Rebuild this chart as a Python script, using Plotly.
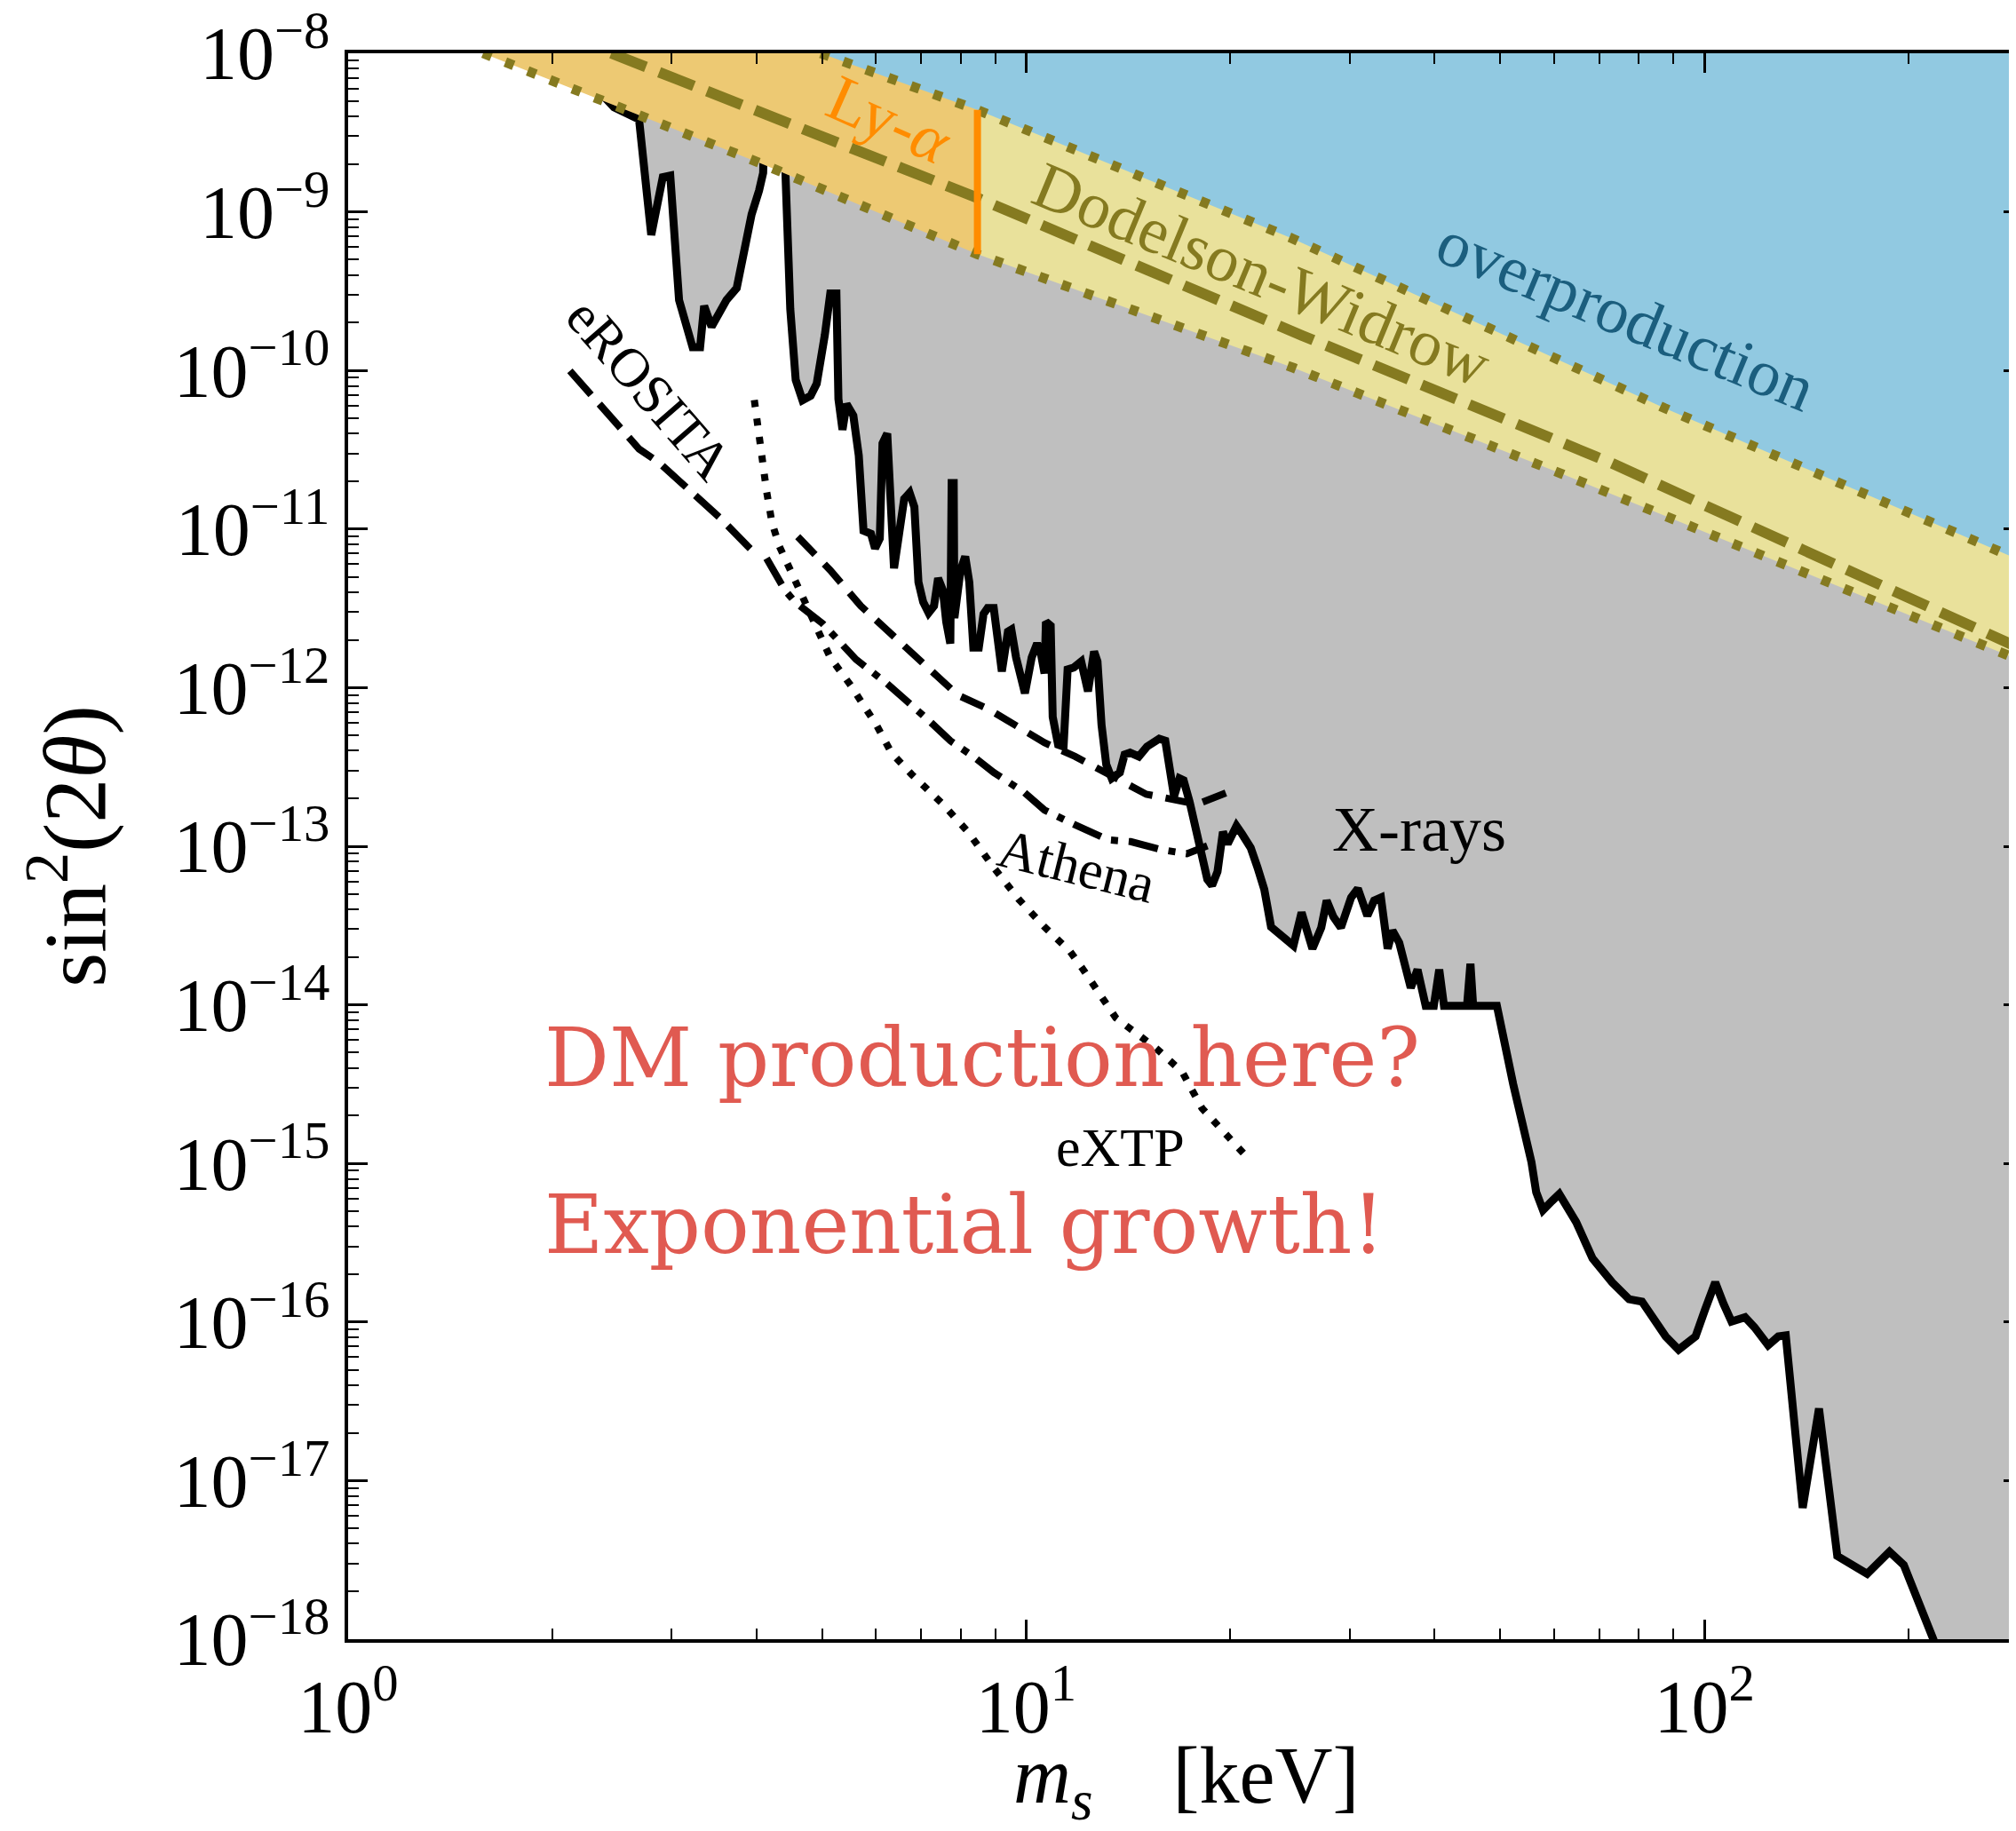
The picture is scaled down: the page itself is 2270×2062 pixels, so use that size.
import plotly.graph_objects as go

# ---------------- data (log10 of m_s in keV, log10 of sin^2(2 theta)) ----------------
xray_log10_m = [0.360, 0.392, 0.429, 0.447, 0.464, 0.475, 0.488, 0.497, 0.508, 0.519,
                0.525, 0.536, 0.558, 0.573, 0.584, 0.595, 0.606, 0.612, 0.619, 0.638,
                0.645, 0.652, 0.660, 0.670, 0.682, 0.691, 0.703, 0.711, 0.720, 0.723,
                0.729, 0.735, 0.745, 0.753, 0.760, 0.771, 0.777, 0.784, 0.788, 0.795,
                0.805, 0.820, 0.828, 0.835, 0.841, 0.848, 0.856, 0.864, 0.870, 0.877,
                0.882, 0.888, 0.890, 0.893, 0.894, 0.903, 0.910, 0.916, 0.922, 0.930,
                0.937, 0.943, 0.952, 0.958, 0.964, 0.973, 0.978, 0.985, 0.998, 1.008,
                1.016, 1.021, 1.027, 1.029, 1.036, 1.039, 1.047, 1.055, 1.061, 1.070,
                1.081, 1.091, 1.100, 1.105, 1.111, 1.118, 1.126, 1.138, 1.145, 1.153,
                1.166, 1.178, 1.196, 1.205, 1.211, 1.218, 1.226, 1.232, 1.241, 1.248,
                1.259, 1.267, 1.274, 1.282, 1.290, 1.297, 1.310, 1.318, 1.331, 1.341,
                1.351, 1.361, 1.376, 1.394, 1.406, 1.422, 1.435, 1.443, 1.453, 1.464,
                1.479, 1.489, 1.503, 1.513, 1.523, 1.533, 1.540, 1.550, 1.567, 1.577,
                1.589, 1.601, 1.609, 1.616, 1.650, 1.655, 1.659, 1.694, 1.718, 1.733,
                1.745, 1.752, 1.762, 1.775, 1.786, 1.811, 1.835, 1.864, 1.889, 1.908,
                1.923, 1.943, 1.962, 1.987, 2.001, 2.016, 2.028, 2.040, 2.060, 2.074,
                2.094, 2.109, 2.120, 2.145, 2.169, 2.196, 2.240, 2.273, 2.294, 2.338,
                2.360]
xray_log10_s = [-8.194, -8.340, -8.417, -9.145, -8.781, -8.771, -9.556, -9.705, -9.854, -9.854,
                -9.593, -9.724, -9.556, -9.481, -9.238, -9.015, -8.865, -8.754, -7.5, -7.5,
                -8.771, -9.612, -10.059, -10.188, -10.160, -10.083, -9.775, -9.515, -9.515, -10.180,
                -10.374, -10.212, -10.285, -10.536, -11.011, -11.030, -11.122, -11.060, -10.460, -10.398,
                -11.247, -10.810, -10.772, -10.861, -11.335, -11.460, -11.528, -11.485, -11.310, -11.385,
                -11.585, -11.722, -10.710, -10.710, -11.560, -11.260, -11.173, -11.335, -11.747, -11.747,
                -11.535, -11.498, -11.498, -11.660, -11.898, -11.647, -11.634, -11.810, -12.035, -11.810,
                -11.722, -11.772, -11.910, -11.585, -11.610, -12.185, -12.360, -12.372, -11.885, -11.873,
                -11.835, -12.023, -11.772, -11.835, -12.235, -12.485, -12.572, -12.535, -12.422, -12.410,
                -12.434, -12.372, -12.322, -12.335, -12.535, -12.685, -12.572, -12.584, -12.722, -12.872,
                -13.059, -13.209, -13.247, -13.160, -12.909, -12.985, -12.872, -12.922, -13.010, -13.134,
                -13.272, -13.509, -13.559, -13.627, -13.418, -13.646, -13.513, -13.343, -13.446, -13.513,
                -13.324, -13.267, -13.438, -13.343, -13.324, -13.646, -13.532, -13.608, -13.892, -13.778,
                -14.006, -14.006, -13.778, -14.006, -14.006, -13.741, -14.006, -14.006, -14.499, -14.764,
                -14.992, -15.182, -15.295, -15.238, -15.193, -15.371, -15.598, -15.750, -15.856, -15.871,
                -15.958, -16.091, -16.174, -16.091, -15.921, -15.750, -15.883, -15.997, -15.970, -16.034,
                -16.147, -16.091, -16.084, -17.172, -16.546, -17.475, -17.588, -17.448, -17.532, -18.005,
                -18.300]

# Dodelson-Widrow band: upper edge, lower edge, central (dashed) line
dw_upper_log10_m = [0.697, 0.928, 1.392, 1.941, 2.470]
dw_upper_log10_s = [-8.000, -8.357, -9.167, -10.237, -11.205]
dw_lower_log10_m = [0.199, 0.610, 0.928, 1.395, 1.792, 2.470]
dw_lower_log10_s = [-8.000, -8.697, -9.267, -9.985, -10.656, -11.835]
dw_mid_log10_m = [0.388, 0.610, 0.928, 1.407, 1.862, 2.470]
dw_mid_log10_s = [-8.000, -8.370, -8.912, -9.780, -10.582, -11.760]

# Lyman-alpha bound (keV, log10)
lya_log10_m = 0.928

# Forecast sensitivities
erosita_log10_m = [0.327, 0.369, 0.414, 0.429, 0.459, 0.499, 0.549, 0.589, 0.604]
erosita_log10_s = [-10.002, -10.207, -10.433, -10.495, -10.583, -10.733, -10.932, -11.107, -11.169]

athena_a_log10_m = [0.663, 0.711, 0.756, 0.794, 0.847, 0.877, 0.899, 0.944, 0.982, 1.027,
                    1.072, 1.117, 1.177, 1.207, 1.252, 1.297]
athena_a_log10_s = [-11.048, -11.260, -11.485, -11.634, -11.835, -11.960, -12.047, -12.135, -12.235, -12.347,
                    -12.434, -12.535, -12.672, -12.697, -12.735, -12.660]

athena_b_log10_m = [0.617, 0.644, 0.659, 0.700, 0.749, 0.794, 0.854, 0.888, 0.922, 0.952,
                    0.997, 1.027, 1.057, 1.094, 1.120, 1.154, 1.199, 1.237, 1.267]
athena_b_log10_s = [-11.185, -11.385, -11.460, -11.597, -11.822, -11.972, -12.198, -12.335, -12.434, -12.535,
                    -12.660, -12.772, -12.835, -12.909, -12.959, -12.971, -13.022, -13.047, -12.997]

extp_log10_m = [0.599, 0.606, 0.617, 0.625, 0.636, 0.655, 0.681, 0.711, 0.741, 0.779,
                0.801, 0.831, 0.877, 0.914, 0.952, 0.989, 1.027, 1.064, 1.084, 1.132,
                1.191, 1.230, 1.259, 1.298, 1.328]
extp_log10_s = [-10.186, -10.435, -10.760, -10.960, -11.110, -11.285, -11.535, -11.810, -11.985, -12.235,
                -12.410, -12.547, -12.735, -12.909, -13.134, -13.335, -13.509, -13.660, -13.778, -14.082,
                -14.272, -14.423, -14.651, -14.840, -14.972]

x_major_exp = [0, 1, 2]
y_major_exp = [-18, -17, -16, -15, -14, -13, -12, -11, -10, -9, -8]

# ---------------- helpers ----------------
def lin(v):
    return [10.0 ** a for a in v]

X_LO, X_HI = 0.0, 2.47
Y_LO, Y_HI = -18.0, -8.0
FAR_R, FAR_T = 2.7, -7.0   # beyond plot edges for closing polygons

GRAY = "#BFBFBF"
ORANGE = "#EDC973"
YELLOW = "#E9E19B"
BLUE = "#91C9E1"
OLIVE = "#857A20"
LYA = "#FF8C00"
TEAL = "#1B5E7E"
RED = "#E05A51"
SERIF = "Liberation Serif"

fig = go.Figure()

# gray excluded region (X-rays)
gx = xray_log10_m + [FAR_R, FAR_R, xray_log10_m[0]]
gy = xray_log10_s + [xray_log10_s[-1], FAR_T, FAR_T]
fig.add_trace(go.Scatter(x=lin(gx), y=lin(gy), fill="toself", fillcolor=GRAY,
                         line=dict(width=0), mode="lines", hoverinfo="skip"))
fig.add_trace(go.Scatter(x=lin(xray_log10_m), y=lin(xray_log10_s), mode="lines",
                         line=dict(color="black", width=9), hoverinfo="skip"))

# split lower edge at Ly-alpha
i_lya = dw_lower_log10_m.index(lya_log10_m)
lo_left_m = dw_lower_log10_m[: i_lya + 1]
lo_left_s = dw_lower_log10_s[: i_lya + 1]
lo_right_m = dw_lower_log10_m[i_lya:]
lo_right_s = dw_lower_log10_s[i_lya:]

# orange (Ly-alpha excluded part of the band)
ox = lo_left_m + [lya_log10_m, lo_left_m[0]]
oy = lo_left_s + [FAR_T, FAR_T]
fig.add_trace(go.Scatter(x=lin(ox), y=lin(oy), fill="toself", fillcolor=ORANGE,
                         line=dict(width=0), mode="lines", hoverinfo="skip"))
# yellow band
yx = lo_right_m + [FAR_R, FAR_R, lya_log10_m]
yy = lo_right_s + [lo_right_s[-1], FAR_T, FAR_T]
fig.add_trace(go.Scatter(x=lin(yx), y=lin(yy), fill="toself", fillcolor=YELLOW,
                         line=dict(width=0), mode="lines", hoverinfo="skip"))
# blue overproduction
bx = dw_upper_log10_m + [FAR_R, FAR_R, dw_upper_log10_m[0]]
by = dw_upper_log10_s + [dw_upper_log10_s[-1], FAR_T, FAR_T]
fig.add_trace(go.Scatter(x=lin(bx), y=lin(by), fill="toself", fillcolor=BLUE,
                         line=dict(width=0), mode="lines", hoverinfo="skip"))

# band edges
for xm, ys in [(dw_upper_log10_m, dw_upper_log10_s), (dw_lower_log10_m, dw_lower_log10_s)]:
    fig.add_trace(go.Scatter(x=lin(xm), y=lin(ys), mode="lines",
                             line=dict(color=OLIVE, width=11, dash="10px,17px"), hoverinfo="skip"))
fig.add_trace(go.Scatter(x=lin(dw_mid_log10_m), y=lin(dw_mid_log10_s), mode="lines",
                         line=dict(color=OLIVE, width=12, dash="42px,16px"), hoverinfo="skip"))

# Ly-alpha line
fig.add_trace(go.Scatter(x=lin([lya_log10_m, lya_log10_m]),
                         y=lin([dw_lower_log10_s[i_lya], dw_upper_log10_s[dw_upper_log10_m.index(lya_log10_m)]]),
                         mode="lines", line=dict(color=LYA, width=8), hoverinfo="skip"))

# forecasts
fig.add_trace(go.Scatter(x=lin(erosita_log10_m), y=lin(erosita_log10_s), mode="lines",
                         line=dict(color="black", width=8, dash="36px,14px"), hoverinfo="skip"))
fig.add_trace(go.Scatter(x=lin(athena_a_log10_m), y=lin(athena_a_log10_s), mode="lines",
                         line=dict(color="black", width=8, dash="28px,15px"), hoverinfo="skip"))
fig.add_trace(go.Scatter(x=lin(athena_b_log10_m), y=lin(athena_b_log10_s), mode="lines",
                         line=dict(color="black", width=8, dash="34px,12px,8px,12px"), hoverinfo="skip"))
fig.add_trace(go.Scatter(x=lin(extp_log10_m), y=lin(extp_log10_s), mode="lines",
                         line=dict(color="black", width=8, dash="8px,13px"), hoverinfo="skip"))

# ---------------- labels ----------------
def lab(x, y, text, size, color, angle=0, family=SERIF, xanchor="center"):
    fig.add_annotation(x=x, y=y, xref="x", yref="y", text=text, showarrow=False,
                       textangle=angle, xanchor=xanchor, yanchor="middle",
                       font=dict(family=family, size=size, color=color))

lab(0.799, -8.421, "Ly-<i>α</i>", 74, LYA, 24)
lab(1.348, -9.394, "Dodelson-Widrow", 74, OLIVE, 22.5)
lab(1.885, -9.653, "overproduction", 74, TEAL, 22.5)
lab(0.444, -10.115, "eROSITA", 62, "black", 49)
lab(1.074, -13.121, "Athena", 62, "black", 14)
lab(1.139, -14.897, "eXTP", 62, "black", 0)
lab(1.580, -12.895, "X-rays", 72, "black", 0)
lab(0.287, -14.335, "DM production here?", 91, RED, 0, "DejaVu Serif", "left")
lab(0.287, -15.390, "Exponential growth!", 91, RED, 0, "DejaVu Serif", "left")

# x-axis title (placed explicitly to keep the subscript inside the picture)
fig.add_annotation(x=0.5, y=-0.090, xref="paper", yref="paper", showarrow=False,
                   xanchor="center", yanchor="middle",
                   text="<i>m</i><sub><i>s</i></sub>\u2002\u2002[keV]",
                   font=dict(family=SERIF, size=90, color="black"))

# ---------------- axes ----------------
x_minor = [k * 10.0 ** e for e in x_major_exp for k in range(2, 10)]
y_minor = [k * 10.0 ** e for e in y_major_exp[:-1] for k in range(2, 10)]

common = dict(type="log", ticks="inside", ticklen=22, tickwidth=2.5, tickcolor="black",
              mirror="allticks", showline=True, linecolor="black", linewidth=3.5,
              showgrid=False, zeroline=False, ticklabeloverflow="allow",
              tickfont=dict(family=SERIF, size=84, color="black"))

fig.update_xaxes(range=[X_LO, X_HI],
                 tickmode="array", tickvals=[10.0 ** e for e in x_major_exp],
                 ticktext=[f"10<sup>{e}</sup>" for e in x_major_exp],
                 minor=dict(tickmode="array", tickvals=x_minor, ticks="inside", ticklen=12,
                            tickwidth=2, tickcolor="black", showgrid=False),
                 **common)
fig.update_yaxes(range=[Y_LO, Y_HI],
                 tickmode="array", tickvals=[10.0 ** e for e in y_major_exp],
                 ticktext=[f"10<sup>{str(e).replace('-', '−')}</sup>" for e in y_major_exp],
                 minor=dict(tickmode="array", tickvals=y_minor, ticks="inside", ticklen=12,
                            tickwidth=2, tickcolor="black", showgrid=False),
                 title=dict(text="sin<sup>2</sup>(2<i>θ</i>)",
                            font=dict(family=SERIF, size=100, color="black"), standoff=44),
                 **common)

fig.update_layout(width=2270, height=2062, showlegend=False,
                  margin=dict(l=384, r=0, t=52, b=224, autoexpand=False),
                  plot_bgcolor="white", paper_bgcolor="white")

fig.write_html("out.html")
